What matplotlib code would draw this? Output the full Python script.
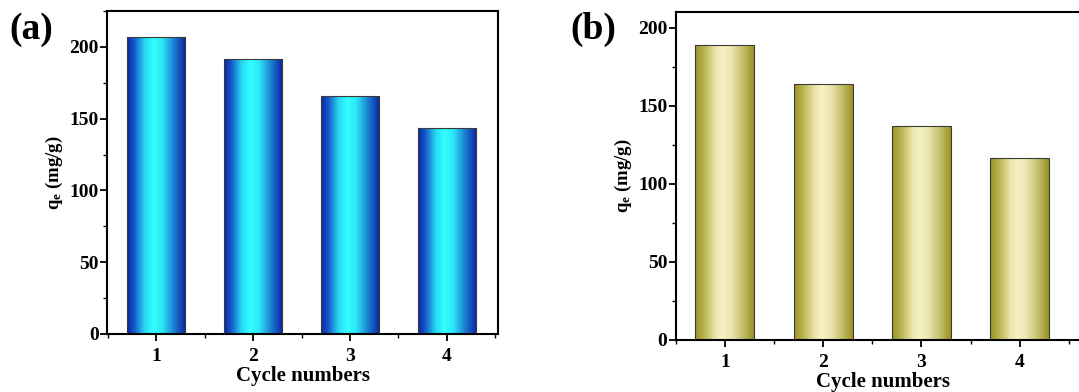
import numpy as np
import matplotlib.pyplot as plt
from matplotlib.colors import LinearSegmentedColormap
from matplotlib.ticker import MultipleLocator

plt.rcParams['font.family'] = 'Liberation Serif'
plt.rcParams['font.weight'] = 'bold'
plt.rcParams['axes.labelweight'] = 'bold'
plt.rcParams['mathtext.fontset'] = 'custom'
plt.rcParams['mathtext.rm'] = 'Liberation Serif:bold'
plt.rcParams['mathtext.it'] = 'Liberation Serif:bold'

# data
cycles = [1, 2, 3, 4]
qe_a = [207, 191.5, 165.5, 143.5]
qe_b = [189, 164, 137, 116.5]

cmap_a = LinearSegmentedColormap.from_list('a', [
    (0.0, '#0a26a2'), (0.12, '#1557c8'), (0.3, '#28d8f2'), (0.45, '#33ffff'),
    (0.6, '#2de6f6'), (0.8, '#1c7ed2'), (1.0, '#0a22a0')])
cmap_b = LinearSegmentedColormap.from_list('b', [
    (0.0, '#9a9322'), (0.15, '#b9b350'), (0.35, '#ece6ab'), (0.47, '#f6f2c4'),
    (0.62, '#ebe5b0'), (0.82, '#c4bd6c'), (1.0, '#99921f')])


def draw_panel(ax, vals, cmap, ylim, xlim, tag, tagpos):
    bars = ax.bar(cycles, vals, width=0.6, facecolor='none',
                  edgecolor='#3a3a3a', linewidth=0.8, zorder=3)
    grad = np.linspace(0, 1, 256).reshape(1, -1)
    for b in bars:
        x0 = b.get_x()
        im = ax.imshow(grad, cmap=cmap, aspect='auto', zorder=2,
                       extent=(x0, x0 + b.get_width(), 0, b.get_height()))
        im.set_clip_path(b)
    ax.set_xlim(*xlim)
    ax.set_ylim(*ylim)
    ax.set_xticks(cycles)
    ax.xaxis.set_minor_locator(MultipleLocator(0.5))
    ax.yaxis.set_major_locator(MultipleLocator(50))
    ax.yaxis.set_minor_locator(MultipleLocator(25))
    ax.tick_params(which='major', direction='out', length=5, width=1.3,
                   labelsize=14, top=False, right=False)
    ax.tick_params(axis='y', which='major', pad=1)
    ax.tick_params(axis='x', which='major', pad=5)
    ax.tick_params(which='minor', direction='out', length=3, width=1.0,
                   top=False, right=False)
    for s in ax.spines.values():
        s.set_linewidth(1.5)
    ax.set_xlabel('Cycle numbers', fontsize=15, labelpad=1)
    ax.set_ylabel(r'q$_{\mathrm{e}}$ (mg/g)', fontsize=13.5, labelpad=3)
    fig.text(tagpos[0], tagpos[1], tag, fontsize=27, fontweight='bold',
             ha='left', va='center')


fig = plt.figure(figsize=(10.79, 3.92), dpi=100)
ax1 = fig.add_axes([0.0992, 0.148, 0.3624, 0.824])
ax2 = fig.add_axes([0.6262, 0.1327, 0.384, 0.836])

draw_panel(ax1, qe_a, cmap_a, (0, 225), (0.49, 4.53), '(a)', (0.009, 0.926))
draw_panel(ax2, qe_b, cmap_b, (0, 210), (0.5, 4.715), '(b)', (0.529, 0.926))

fig.savefig('out.png', dpi=100)
